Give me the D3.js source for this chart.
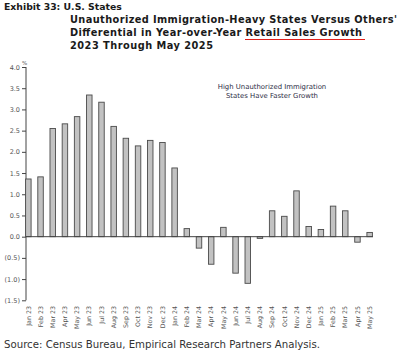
<!DOCTYPE html>
<html><head><meta charset="utf-8">
<script src="https://cdn.jsdelivr.net/npm/d3@7"></script>
<style>body{margin:0;background:#fff;}svg{display:block;}</style>
</head><body>
<svg id="c" width="401" height="357"></svg>
<script>
const categories = ["Jan 23","Feb 23","Mar 23","Apr 23","May 23","Jun 23","Jul 23","Aug 23","Sep 23","Oct 23","Nov 23","Dec 23",
  "Jan 24","Feb 24","Mar 24","Apr 24","May 24","Jun 24","Jul 24","Aug 24","Sep 24","Oct 24","Nov 24","Dec 24",
  "Jan 25","Feb 25","Mar 25","Apr 25","May 25"];
const values = [1.36,1.41,2.55,2.66,2.83,3.34,3.17,2.60,2.32,2.14,2.27,2.22,
  1.62,0.19,-0.27,-0.65,0.22,-0.86,-1.10,-0.04,0.61,0.48,1.08,0.24,
  0.17,0.72,0.61,-0.13,0.10];
const yTicks = [4.0,3.5,3.0,2.5,2.0,1.5,1.0,0.5,0.0,-0.5,-1.0,-1.5];
const titleLines = ["Unauthorized Immigration-Heavy States Versus Others'",
  "Differential in Year-over-Year ", "Retail Sales Growth", "2023 Through May 2025"];

const svg = d3.select("#c");
const y = d3.scaleLinear().domain([-1.5,4.0]).range([300.3,67]);
const x = d3.scaleBand().domain(categories).range([25,373]).paddingInner(0.55).paddingOuter(0.05);
const fmt = v => v < 0 ? "(" + d3.format(".1f")(-v) + ")" : d3.format(".1f")(v);

// title
const tf = "DejaVu Sans, Verdana, sans-serif";
function tline(xp, yp, txt, len) {
  return svg.append("text").attr("x",xp).attr("y",yp).attr("font-family",tf).attr("font-weight","bold")
    .attr("font-size",9.8).attr("fill","#1a1a1a").attr("textLength",len).attr("lengthAdjust","spacing").text(txt);
}
svg.append("text").attr("x",4).attr("y",10).attr("font-family",tf).attr("font-weight","bold")
  .attr("font-size",9.3).attr("fill","#1a1a1a").text("Exhibit 33: U.S. States");
tline(70,23,titleLines[0],327);
const t3 = svg.append("text").attr("x",70).attr("y",36).attr("font-family",tf).attr("font-weight","bold")
  .attr("font-size",9.8).attr("fill","#1a1a1a").attr("textLength",292).attr("lengthAdjust","spacing");
t3.append("tspan").text(titleLines[1]);
t3.append("tspan").text(titleLines[2]);
tline(70,49,titleLines[3],143);
// underline
svg.append("line").attr("x1",245).attr("x2",365).attr("y1",39.5).attr("y2",39.5)
  .attr("stroke","#e0201c").attr("stroke-width",1);

// y axis
const yAxis = d3.axisLeft(y).tickValues(yTicks).tickSize(4).tickFormat(fmt);
const ga = svg.append("g").attr("transform","translate(26,0)").call(yAxis);
ga.select(".domain").attr("stroke","#444").attr("d","M0,67V300.3");
ga.selectAll(".tick line").attr("stroke","#444");
ga.selectAll(".tick text").attr("font-family","DejaVu Sans, sans-serif").attr("font-size",6.5)
  .attr("fill","#555").attr("x",-6);
svg.append("text").attr("x",22).attr("y",65).attr("font-family","DejaVu Sans, sans-serif")
  .attr("font-size",5.5).attr("fill","#555").text("%");

// bars
svg.append("g").selectAll("rect").data(values).join("rect")
  .attr("x",(d,i)=>x(categories[i]))
  .attr("width",x.bandwidth())
  .attr("y",d=>y(Math.max(0,d)))
  .attr("height",d=>Math.abs(y(d)-y(0)))
  .attr("fill","#c2c2c2").attr("stroke","#4a4a4a").attr("stroke-width",0.9);

// zero line
svg.append("line").attr("x1",26).attr("x2",373).attr("y1",y(0)).attr("y2",y(0))
  .attr("stroke","#444").attr("stroke-width",1);

// x labels
svg.append("g").selectAll("text").data(categories).join("text")
  .attr("transform",d=>`translate(${x(d)+x.bandwidth()/2+2.2},306) rotate(-90)`)
  .attr("text-anchor","end").attr("font-family","DejaVu Sans, sans-serif").attr("font-size",6.3)
  .attr("fill","#555").text(d=>d);

// annotation
const ann = svg.append("text").attr("text-anchor","middle").attr("font-family","DejaVu Sans, sans-serif")
  .attr("font-size",6.9).attr("fill","#2d2d45");
ann.append("tspan").attr("x",272).attr("y",89).text("High Unauthorized Immigration");
ann.append("tspan").attr("x",272).attr("y",97.5).text("States Have Faster Growth");

// source
svg.append("text").attr("x",4).attr("y",348).attr("font-family","DejaVu Sans, sans-serif")
  .attr("font-size",9.6).attr("fill","#333").attr("textLength",316).attr("lengthAdjust","spacingAndGlyphs")
  .text("Source: Census Bureau, Empirical Research Partners Analysis.");
</script>
</body></html>
